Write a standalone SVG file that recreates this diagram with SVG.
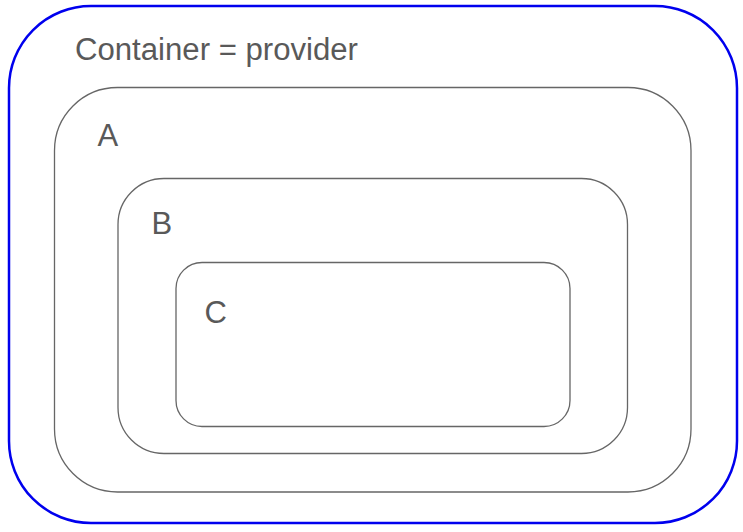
<svg xmlns="http://www.w3.org/2000/svg" width="743" height="532" viewBox="0 0 743 532">
<style>
.box{fill:none;stroke:#666;stroke-width:1.3}
.outer{fill:#fff;stroke:#0000ee;stroke-width:2.5}
.lbl{font-family:"Liberation Sans",Arial,sans-serif;font-size:31px;fill:#595959}
</style>
<rect width="743" height="532" fill="#fff"/>
<g id="container">
<rect class="outer" x="9" y="6" width="728" height="517" rx="82" ry="82"/>
<text class="lbl" x="75" y="60" textLength="283" lengthAdjust="spacingAndGlyphs">Container = provider</text>
</g>
<g id="A">
<rect class="box" x="54.5" y="87.5" width="636.5" height="404.5" rx="63" ry="63"/>
<text class="lbl" x="97.5" y="145.5">A</text>
</g>
<g id="B">
<rect class="box" x="118" y="178.5" width="509.5" height="275" rx="46" ry="46"/>
<text class="lbl" x="151.5" y="233.5">B</text>
</g>
<g id="C">
<rect class="box" x="176" y="262.5" width="394" height="164" rx="26" ry="26"/>
<text class="lbl" x="204.5" y="323">C</text>
</g>
<g id="connectors"></g>
</svg>
